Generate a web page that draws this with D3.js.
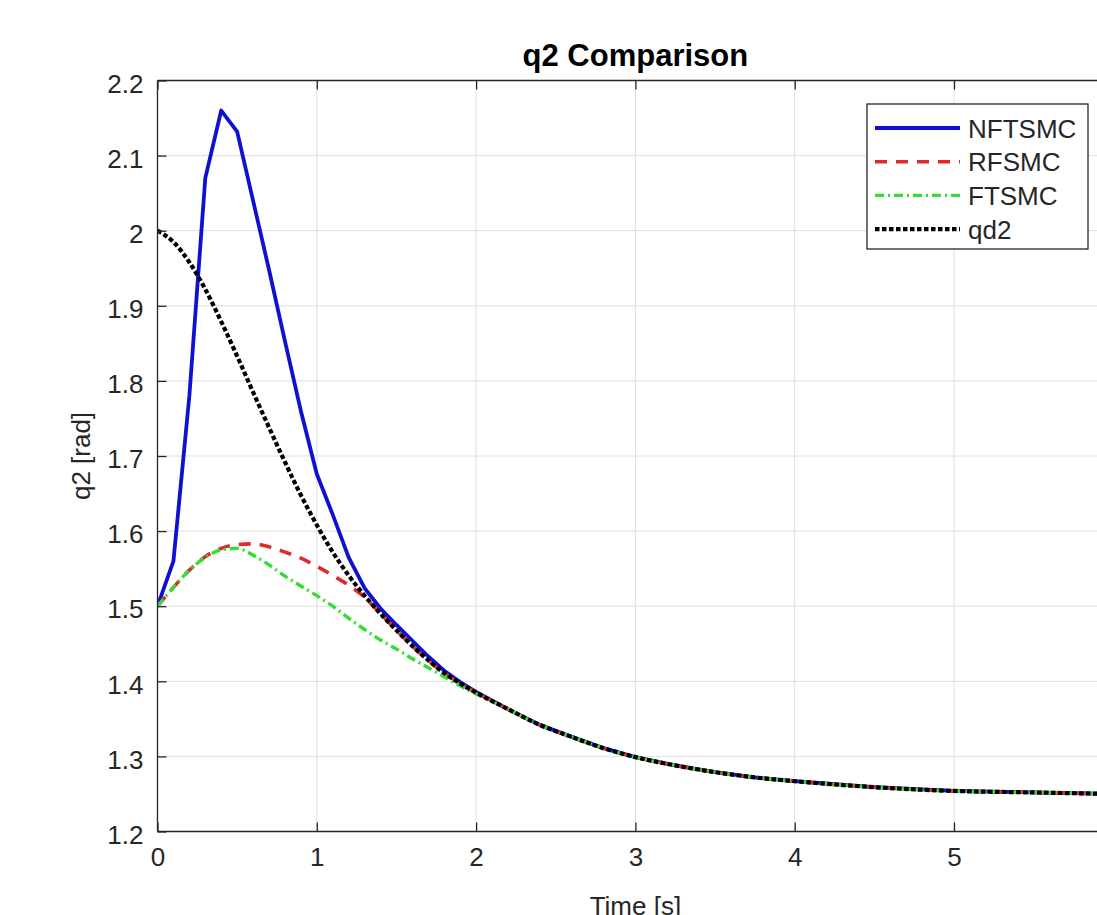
<!DOCTYPE html>
<html>
<head>
<meta charset="utf-8">
<script src="https://cdn.jsdelivr.net/npm/d3@7/dist/d3.min.js"></script>
<style>
  html, body { margin: 0; padding: 0; background: #ffffff; overflow: hidden; }
  svg { display: block; font-family: "Liberation Sans", Arial, Helvetica, sans-serif; }
</style>
</head>
<body>
<svg id="chart" width="1097" height="915"></svg>
<script>
// ---- data ----
const titleText = "q2 Comparison";
const xLabelText = "Time [s]";
const yLabelText = "q2 [rad]";
const xTicks = [0, 1, 2, 3, 4, 5, 6];
const xTickLabels = ["0", "1", "2", "3", "4", "5", ""];
const yTicks = [1.2, 1.3, 1.4, 1.5, 1.6, 1.7, 1.8, 1.9, 2.0, 2.1, 2.2];
const seriesNames = ["NFTSMC", "RFSMC", "FTSMC", "qd2"];

const timeEarly = [0, 0.1, 0.2, 0.3, 0.4, 0.5, 0.6, 0.7, 0.8, 0.9, 1.0,
                   1.1, 1.2, 1.3, 1.4, 1.5, 1.6, 1.7, 1.8, 1.9, 2.0];
const timeLate = [2.2, 2.4, 2.6, 2.8, 3.0, 3.25, 3.5, 3.75, 4.0, 4.5, 5.0, 5.5, 6.0];

const nftsmcEarly = [1.500, 1.560, 1.780, 2.070, 2.160, 2.132, 2.040, 1.948, 1.853, 1.760, 1.676,
                     1.622, 1.565, 1.524, 1.497, 1.475, 1.454, 1.433, 1.414, 1.399, 1.386];
const rfsmcEarly  = [1.500, 1.525, 1.548, 1.566, 1.577, 1.582, 1.583, 1.579, 1.572, 1.564, 1.553,
                     1.541, 1.528, 1.512, 1.490, 1.468, 1.447, 1.428, 1.411, 1.397, 1.385];
const ftsmcEarly  = [1.500, 1.525, 1.548, 1.565, 1.575, 1.577, 1.568, 1.555, 1.540, 1.527, 1.514,
                     1.500, 1.484, 1.469, 1.455, 1.443, 1.430, 1.418, 1.406, 1.394, 1.383];
const qd2Early    = [2.000, 1.985, 1.958, 1.922, 1.879, 1.833, 1.785, 1.738, 1.692, 1.648, 1.608,
                     1.572, 1.541, 1.514, 1.490, 1.468, 1.447, 1.428, 1.411, 1.397, 1.385];
// after t = 2 s all four curves lie on top of each other
const commonLate  = [1.363, 1.342, 1.326, 1.311, 1.299, 1.288, 1.279, 1.272, 1.267, 1.259, 1.254, 1.252, 1.250];

// ---- layout ----
const svg = d3.select("#chart");
const plotLeft = 157.5, plotTop = 80.5, plotBottom = 831.5, pxPerSec = 159.3;
const x = d3.scaleLinear().domain([0, 6]).range([plotLeft, plotLeft + 6 * pxPerSec]);
const y = d3.scaleLinear().domain([1.2, 2.2]).range([plotBottom, plotTop]);
const axisColor = "#262626";
const gridColor = "#dedede";

// grid
svg.append("g").selectAll("line").data(xTicks).join("line")
  .attr("x1", d => x(d)).attr("x2", d => x(d))
  .attr("y1", y(1.2)).attr("y2", y(2.2))
  .attr("stroke", gridColor).attr("stroke-width", 1);
svg.append("g").selectAll("line").data(yTicks).join("line")
  .attr("x1", x(0)).attr("x2", x(6))
  .attr("y1", d => y(d)).attr("y2", d => y(d))
  .attr("stroke", gridColor).attr("stroke-width", 1);

// clip
svg.append("clipPath").attr("id", "plotclip").append("rect")
  .attr("x", x(0)).attr("y", y(2.2)).attr("width", x(6) - x(0)).attr("height", y(1.2) - y(2.2));

// series
function buildSeries(early) {
  const pts = timeEarly.map((t, i) => [t, early[i]]);
  return pts.concat(timeLate.map((t, i) => [t, commonLate[i]]));
}
const series = [
  { name: seriesNames[0], pts: buildSeries(nftsmcEarly), color: "#1010d0", dash: null, width: 3.8, curve: d3.curveLinear },
  { name: seriesNames[1], pts: buildSeries(rfsmcEarly),  color: "#e02a2a", dash: "12,9", width: 3.6, curve: d3.curveMonotoneX },
  { name: seriesNames[2], pts: buildSeries(ftsmcEarly),  color: "#33dd33", dash: "9,4,2,4", width: 3.4, curve: d3.curveMonotoneX },
  { name: seriesNames[3], pts: buildSeries(qd2Early),    color: "#000000", dash: "4.5,2.5", width: 4.2, curve: d3.curveMonotoneX }
];

const plotG = svg.append("g").attr("clip-path", "url(#plotclip)");
series.forEach(s => {
  const line = d3.line().x(d => x(d[0])).y(d => y(d[1])).curve(s.curve);
  plotG.append("path").datum(s.pts)
    .attr("d", line)
    .attr("fill", "none")
    .attr("stroke", s.color)
    .attr("stroke-width", s.width)
    .attr("stroke-linejoin", "round")
    .attr("stroke-dasharray", s.dash);
});

// axes box lines
const axG = svg.append("g").attr("stroke", axisColor).attr("stroke-width", 1.3);
axG.append("line").attr("x1", x(0)).attr("x2", x(0)).attr("y1", y(1.2)).attr("y2", y(2.2));
axG.append("line").attr("x1", x(0)).attr("x2", x(6)).attr("y1", y(1.2)).attr("y2", y(1.2));
axG.append("line").attr("x1", x(0)).attr("x2", x(6)).attr("y1", y(2.2)).attr("y2", y(2.2));
axG.append("line").attr("x1", x(6)).attr("x2", x(6)).attr("y1", y(1.2)).attr("y2", y(2.2));

// ticks (inward) using d3 axes
const tickLen = 9;
const fmt = d => String(+d.toFixed(1));
const xAxisB = d3.axisBottom(x).tickValues(xTicks).tickSize(-tickLen)
  .tickFormat((d, i) => xTickLabels[i]).tickPadding(16);
const xAxisT = d3.axisTop(x).tickValues(xTicks).tickSize(-tickLen).tickFormat("");
const yAxisL = d3.axisLeft(y).tickValues(yTicks).tickSize(-tickLen).tickFormat(fmt).tickPadding(14);

function styleAxis(g) {
  g.select(".domain").remove();
  g.selectAll(".tick line").attr("stroke", axisColor).attr("stroke-width", 1.3);
  g.selectAll(".tick text").attr("fill", axisColor)
    .style("font-size", "26px").style("font-family", '"Liberation Sans", Arial, sans-serif');
}
svg.append("g").attr("transform", `translate(0,${y(1.2)})`).call(xAxisB).call(styleAxis);
svg.append("g").attr("transform", `translate(0,${y(2.2)})`).call(xAxisT).call(styleAxis);
svg.append("g").attr("transform", `translate(${x(0)},0)`).call(yAxisL).call(styleAxis)
  .selectAll(".tick text").attr("dy", "0.45em");

// title and labels
svg.append("text").attr("x", x(3)).attr("y", 66)
  .attr("text-anchor", "middle").attr("fill", "#000")
  .style("font-size", "31px").style("font-weight", "bold").text(titleText);
svg.append("text").attr("x", x(3)).attr("y", 915)
  .attr("text-anchor", "middle").attr("fill", axisColor)
  .style("font-size", "26px").text(xLabelText);
svg.append("text").attr("transform", `translate(90,${(y(1.2) + y(2.2)) / 2}) rotate(-90)`)
  .attr("text-anchor", "middle").attr("fill", axisColor)
  .style("font-size", "26px").text(yLabelText);

// legend
const lg = svg.append("g");
lg.append("rect").attr("x", 867).attr("y", 104).attr("width", 221).attr("height", 145)
  .attr("fill", "#ffffff").attr("stroke", axisColor).attr("stroke-width", 1.3);
series.forEach((s, i) => {
  const yy = 128 + i * 33.7;
  lg.append("line").attr("x1", 875).attr("x2", 960).attr("y1", yy).attr("y2", yy)
    .attr("stroke", s.color).attr("stroke-width", s.width).attr("stroke-dasharray", s.dash);
  lg.append("text").attr("x", 968).attr("y", yy + 9.5).attr("fill", axisColor)
    .style("font-size", "26px").text(s.name);
});
</script>
</body>
</html>
